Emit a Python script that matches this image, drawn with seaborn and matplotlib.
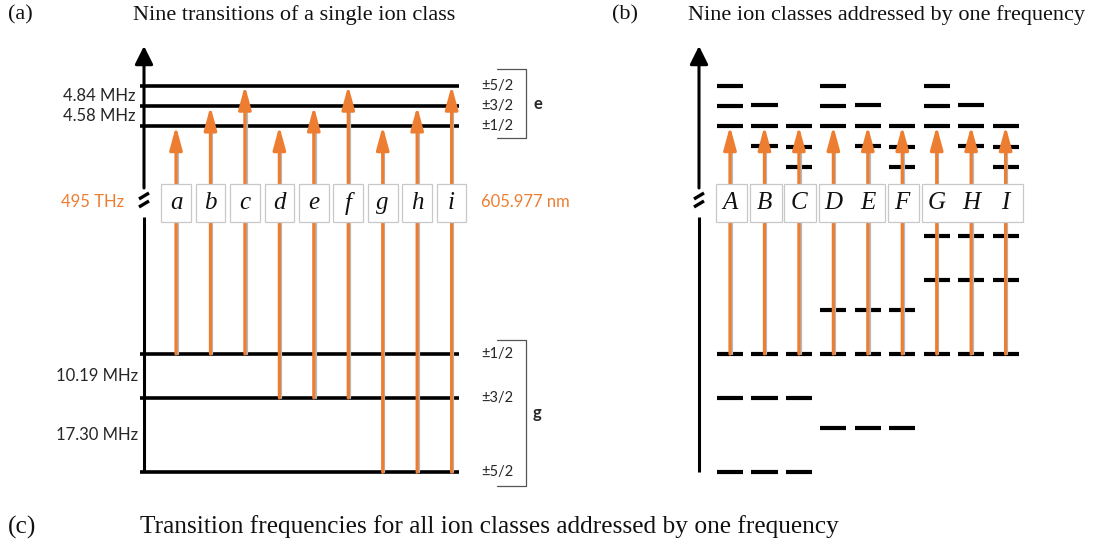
import numpy as np
import seaborn as sns
import matplotlib.pyplot as plt
from matplotlib.patches import FancyArrowPatch, Rectangle

sns.set_theme(style="white")
plt.rcParams['font.family'] = ['Liberation Serif', 'DejaVu Serif']

# level energies (MHz, arbitrary zero); the gap between g and e is the 495 THz break
ground_mhz = [0.0, -10.19, -27.49]        # g: ±1/2, ±3/2, ±5/2
excited_mhz = [53.0, 57.58, 62.42]        # e: ±1/2, ±3/2, ±5/2
spin_labels = ['±1/2', '±3/2', '±5/2']
ground_split = ['10.19 MHz', '17.30 MHz']
excited_split = ['4.58 MHz', '4.84 MHz']

# transitions: which ground / excited sublevel each one uses
trans_letters = ['a', 'b', 'c', 'd', 'e', 'f', 'g', 'h', 'i']
class_letters = ['A', 'B', 'C', 'D', 'E', 'F', 'G', 'H', 'I']
g_index = [0, 0, 0, 1, 1, 1, 2, 2, 2]
e_index = [0, 1, 2, 0, 1, 2, 0, 1, 2]
class_boxes = [[0], [1], [2], [3, 4], [5], [6, 7, 8]]

orange = '#ED7D31'
W, H = 1101, 548
SP = 34.45      # px per column
K = 4.3         # px per MHz
Y0 = 354        # px of g ±1/2

fig = plt.figure(figsize=(W / 100, H / 100), dpi=100)


def make_ax(x0, x1, col0):
    ax = fig.add_axes([x0 / W, 1 - 500 / H, (x1 - x0) / W, 470 / H])
    ax.set_xlim((x0 - col0) / SP, (x1 - col0) / SP)
    ax.set_ylim((Y0 - 500) / K, (Y0 - 30) / K)
    ax.axis('off')
    fx = lambda px: (px - col0) / SP
    fy = lambda py: (Y0 - py) / K
    return ax, fx, fy


def energy_axis(ax, fx, fy, xpx):
    x = fx(xpx)
    ax.plot([x, x], [ground_mhz[2], fy(217)], color='black', lw=2.2, solid_capstyle='butt')
    ax.add_patch(FancyArrowPatch((x, fy(188)), (x, fy(46)), arrowstyle='-|>,head_length=1.1,head_width=0.55',
                                 mutation_scale=10, color='black', lw=2.2, shrinkA=0, shrinkB=0))
    for dy in (-4, 4):
        ax.plot([fx(xpx - 5), fx(xpx + 5)], [fy(200 + dy + 3), fy(200 + dy - 3)],
                color='black', lw=2.4, solid_capstyle='butt')


def transition(ax, x, y_from, y_to):
    ax.plot([x + 0.05, x + 0.05], [y_from, y_to - 3], color='#b8b8b8', lw=1.6, zorder=2)
    ax.add_patch(FancyArrowPatch((x, y_from), (x, y_to), arrowstyle='-|>,head_length=1.4,head_width=0.38',
                                 mutation_scale=10, color=orange, lw=2.3, shrinkA=0, shrinkB=0, zorder=3))


def letter_box(ax, fy, xa, xb, letters, xs):
    ax.add_patch(Rectangle((xa, fy(222)), xb - xa, fy(184) - fy(222), facecolor='white',
                           edgecolor='#c8c8c8', lw=0.9, zorder=4))
    for t, x in zip(letters, xs):
        ax.text(x, fy(203), t, ha='center', va='center', fontsize=18, style='italic',
                color='#111111', zorder=5)


# ---------- panel (a)
axa, fx, fy = make_ax(0, 600, 176)
cols = np.arange(len(trans_letters))
energy_axis(axa, fx, fy, 144)
axa.hlines(ground_mhz + excited_mhz, fx(140), fx(459), color='black', lw=2.6, zorder=1)

for c, gi, ei in zip(cols, g_index, e_index):
    transition(axa, c, ground_mhz[gi], excited_mhz[ei])
for c, t in zip(cols, trans_letters):
    letter_box(axa, fy, c - 0.43, c + 0.43, [t], [c])

sans = ['Lato', 'DejaVu Sans']
for lab, ya, yb in zip(excited_split, excited_mhz[:-1], excited_mhz[1:]):
    axa.text(fx(135), (ya + yb) / 2, lab, ha='right', va='center', fontsize=12, family=sans)
for lab, ya, yb in zip(ground_split, ground_mhz[:-1], ground_mhz[1:]):
    axa.text(fx(138), (ya + yb) / 2, lab, ha='right', va='center', fontsize=12, family=sans)
for lab, ye, yg in zip(spin_labels, excited_mhz, ground_mhz):
    axa.text(fx(481), ye, lab, ha='left', va='center', fontsize=10.5, family=sans)
    axa.text(fx(481), yg, lab, ha='left', va='center', fontsize=10.5, family=sans)
axa.text(fx(124), fy(202), '495 THz', ha='right', va='center', fontsize=12, color=orange, family=sans)
axa.text(fx(481), fy(202), '605.977 nm', ha='left', va='center', fontsize=12, color=orange, family=sans)

for top, bot, lab in [(69, 138, 'e'), (340, 486, 'g')]:
    axa.plot([fx(497), fx(526), fx(526), fx(497)], [fy(top), fy(top), fy(bot), fy(bot)],
             color='#555555', lw=0.9)
    axa.text(fx(533), fy((top + bot) / 2), lab, ha='left', va='center', fontsize=12,
             fontweight='bold', family=sans)

# ---------- panel (b): every class shifted so its transition sits at one frequency
axb, gx, gy = make_ax(600, 1101, 730)
energy_axis(axb, gx, gy, 699)
half = 0.38
for c, gi, ei in zip(cols, g_index, e_index):
    g_lev = np.array(ground_mhz) + ground_mhz[0] - ground_mhz[gi]
    e_lev = np.array(excited_mhz) + excited_mhz[0] - excited_mhz[ei]
    axb.hlines(np.concatenate([g_lev, e_lev]), c - half, c + half, color='black', lw=3.0, zorder=1)
    transition(axb, c, ground_mhz[0], excited_mhz[0])
for grp in class_boxes:
    letter_box(axb, gy, grp[0] - 0.42, grp[-1] + 0.5, [class_letters[k] for k in grp], grp)

# ---------- titles
def ftext(xpx, ypx, s, size=16):
    fig.text(xpx / W, 1 - ypx / H, s, va='center', fontsize=size, color='#111111')

ftext(8, 15, '(a)')
ftext(133, 15, 'Nine transitions of a single ion class')
ftext(612, 15, '(b)')
ftext(688, 15, 'Nine ion classes addressed by one frequency')
ftext(8, 527, '(c)', 18.3)
ftext(140, 527, 'Transition frequencies for all ion classes addressed by one frequency', 18.3)

fig.savefig('out.png', dpi=100)
